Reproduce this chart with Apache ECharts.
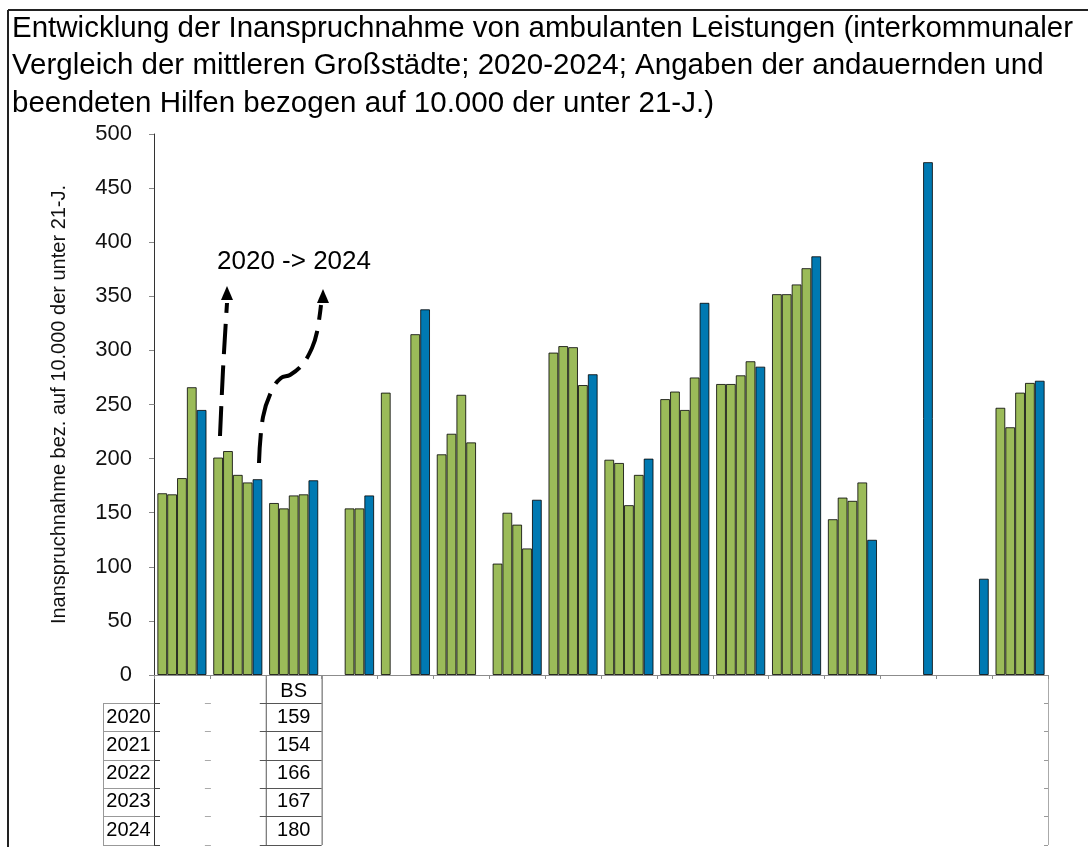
<!DOCTYPE html>
<html>
<head>
<meta charset="utf-8">
<script src="https://cdn.jsdelivr.net/npm/echarts@6/dist/echarts.min.js"></script>
<style>
  html, body { margin: 0; padding: 0; background: #fff; }
  #chart { width: 1088px; height: 847px; }
</style>
</head>
<body>
<div id="chart"></div>
<script>
// Kategorien (Staedtenamen ausser BS im Original ausgeblendet)
var categories = ['', '', 'BS', '', '', '', '', '', '', '', '', '', '', '', '', '']
var years = ['2020', '2021', '2022', '2023', '2024']
var yTicks = [0, 50, 100, 150, 200, 250, 300, 350, 400, 450, 500]

var v2020 = [168, 201, 159, null, 261, 204, 103, 298, 199, 255, 269, 352, 144, null, null, 247]
var v2021 = [167, 207, 154, null, null, 223, 150, 304, 196, 262, 269, 352, 164, null, null, 229]
var v2022 = [182, 185, 166, 154, null, 259, 139, 303, 157, 245, 277, 361, 161, null, null, 261]
var v2023 = [266, 178, 167, 154, 315, 215, 117, 268, 185, 275, 290, 376, 178, null, null, 270]
var v2024 = [245, 181, 180, 166, 338, null, 162, 278, 200, 344, 285, 387, 125, 474, 89, 272]

var green = '#9bbb59'
var blue = '#0079b2'
var font = '"Liberation Sans", Arial, sans-serif'

var chart = echarts.init(document.getElementById('chart'))

var gridLeft = 154
var gridRight = 40
var gridTop = 134
var gridBottom = 172

function makeSeries(name, data, color) {
  return {
    name: name,
    type: 'bar',
    data: data,
    barGap: '0%',
    barCategoryGap: '12%',
    itemStyle: {
      color: color,
      borderColor: 'rgba(0,0,0,0.8)',
      borderWidth: 1
    },
    emphasis: { disabled: true }
  }
}

var allYears = [v2020, v2021, v2022, v2023, v2024]
var series = years.map(function(y, i) {
  return makeSeries(y, allYears[i], i === 4 ? blue : green)
})

chart.setOption({
  backgroundColor: '#fff',
  animation: false,
  textStyle: { fontFamily: font },
  title: {
    text: 'Entwicklung der Inanspruchnahme von ambulanten Leistungen (interkommunaler\n' +
      'Vergleich der mittleren Großstädte; 2020-2024; Angaben der andauernden und\n' +
      'beendeten Hilfen bezogen auf 10.000 der unter 21-J.)',
    left: 12,
    top: 10,
    padding: 0,
    textStyle: {
      fontFamily: font,
      fontSize: 29.5,
      fontWeight: 'normal',
      lineHeight: 37.5,
      color: '#000'
    }
  },
  grid: {
    left: gridLeft,
    right: gridRight,
    top: gridTop,
    bottom: gridBottom
  },
  xAxis: {
    type: 'category',
    data: categories,
    axisLine: { lineStyle: { color: '#8c8c8c', width: 1 } },
    axisTick: { show: true, length: 4, lineStyle: { color: '#8c8c8c' } },
    axisLabel: { interval: 0, margin: 6, fontSize: 20, color: '#000', fontFamily: font }
  },
  yAxis: {
    type: 'value',
    min: yTicks[0],
    max: yTicks[yTicks.length - 1],
    interval: 50,
    name: 'Inanspruchnahme bez. auf 10.000 der unter 21-J.',
    nameLocation: 'middle',
    nameGap: 85,
    nameTextStyle: { fontSize: 20, color: '#111', fontFamily: font },
    splitLine: { show: false },
    axisLine: { show: true, lineStyle: { color: '#333', width: 1 } },
    axisTick: { show: true, length: 5, lineStyle: { color: '#888' } },
    axisLabel: { fontSize: 22, color: '#111', margin: 22, fontFamily: font }
  },
  series: series
})

// Datentabelle, Rahmen und Pfeile
var plotW = 1088 - gridLeft - gridRight
var catW = plotW / categories.length
var axisY = 847 - gridBottom
var rowH = 28.2
var tableBottom = 845
var bsIdx = categories.indexOf('BS')
var bsLeft = gridLeft + catW * bsIdx
var bsRight = bsLeft + catW
var headLeft = 103

var g = []
function line(x1, y1, x2, y2, color, w) {
  g.push({ type: 'line', silent: true, shape: { x1: x1, y1: y1, x2: x2, y2: y2 },
    style: { stroke: color, lineWidth: w || 1 } })
}
function text(x, y, s, size, align) {
  g.push({ type: 'text', silent: true, x: x, y: y,
    style: { text: s, fontSize: size, fontFamily: font, fill: '#000',
      align: align || 'center', verticalAlign: 'middle' } })
}

// Rahmen
line(8, 10, 8, 847, '#222', 2)
line(8, 10, 1088, 10, '#222', 2)

// senkrechte Tabellenlinien
line(gridLeft + 0.5, axisY, gridLeft + 0.5, tableBottom, '#333')
line(bsLeft + 0.5, axisY, bsLeft + 0.5, tableBottom, '#555')
line(bsRight + 0.5, axisY, bsRight + 0.5, tableBottom, '#555')
line(1088 - gridRight + 0.5, axisY, 1088 - gridRight + 0.5, tableBottom, '#aaa')
line(headLeft + 0.5, axisY + rowH, headLeft + 0.5, tableBottom, '#999')

for (var r = 0; r <= years.length; r++) {
  var yy = Math.round(axisY + rowH * (r + 1)) + 0.5
  if (r === years.length) yy = tableBottom + 0.5
  line(headLeft, yy, gridLeft, yy, '#999')
  line(gridLeft, yy, gridLeft + 6, yy, '#444')
  line(gridLeft + catW - 5, yy, gridLeft + catW + 1, yy, '#aaa')
  line(bsLeft - 6, yy, bsRight, yy, '#555')
  line(1088 - gridRight - 4, yy, 1088 - gridRight, yy, '#999')
  if (r < years.length) {
    var cy = axisY + rowH * (r + 1.5)
    text((headLeft + gridLeft) / 2, cy, years[r], 20)
    text((bsLeft + bsRight) / 2, cy, String(allYears[r][bsIdx]), 20)
  }
}

// Annotation 2020 -> 2024
text(217, 262, '2020 -> 2024', 26, 'left')

var dash = [30, 11]
g.push({ type: 'polyline', silent: true,
  shape: { points: [[220, 436], [223, 370], [227, 303]], smooth: 0.3 },
  style: { stroke: '#000', lineWidth: 4, lineDash: dash, fill: null } })
g.push({ type: 'polygon', silent: true,
  shape: { points: [[227, 286], [221, 300], [233, 300]] },
  style: { fill: '#000' } })

g.push({ type: 'polyline', silent: true,
  shape: { points: [[259, 463], [263, 417], [272, 390], [281, 378], [290, 375],
    [302, 365], [312, 348], [317, 332], [321, 305]], smooth: 0.4 },
  style: { stroke: '#000', lineWidth: 4, lineDash: dash, fill: null } })
g.push({ type: 'polygon', silent: true,
  shape: { points: [[323, 289], [317, 303], [329, 303]] },
  style: { fill: '#000' } })

chart.setOption({ graphic: { elements: g } })
</script>
</body>
</html>
